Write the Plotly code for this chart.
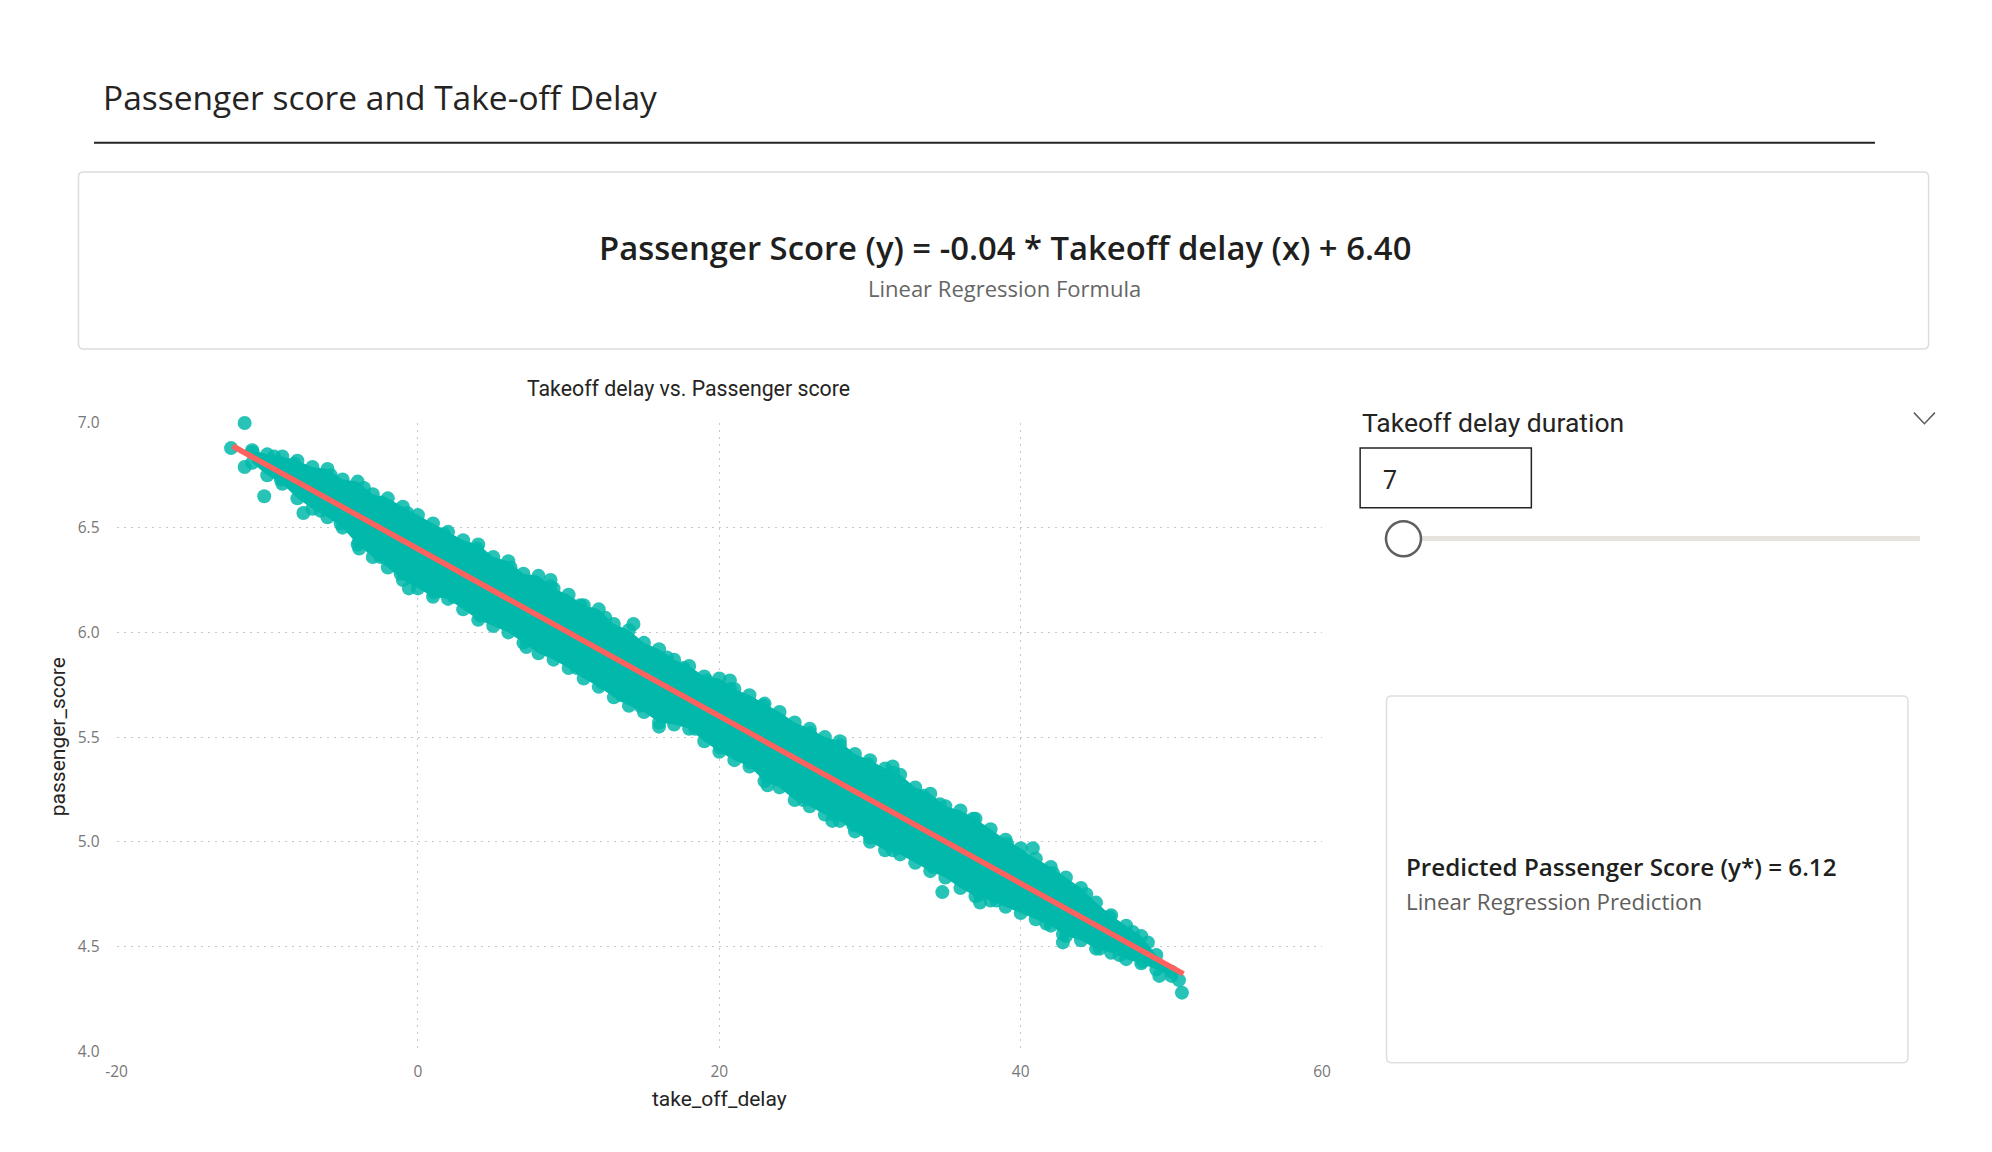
import plotly.graph_objects as go

# page body keeps an 8px margin: the figure is sized to fit the window
OFF = 8
W, H = 1992 - 2 * OFF, 1152 - 2 * OFF
# measured capture scaling of the page (screen = A + S * page)
SX, SY = 0.991, 0.979
AX, AY = 2.0, 5.2

# ---------------- data ----------------
# regression line end points (take_off_delay, passenger_score)
fit_x = [-12.3, 50.8]
fit_y = [6.89, 4.37]

# sampled positions along the dense point cloud
band_x = [-11, -10, -9, -8, -7, -6, -5, -4, -3, -2, -1,
          0, 1, 2, 3, 4, 5, 6, 7, 8, 9, 10, 11, 12, 13, 14, 15, 16, 17, 18, 19,
          20, 21, 22, 23, 24, 25, 26, 27, 28, 29, 30, 31, 32, 33, 34, 35, 36, 37,
          38, 39, 40, 41, 42, 43, 44, 45, 46, 47, 48, 49, 50]
# upper edge points of the cloud
band_hi = [6.87, 6.85, 6.84, 6.82, 6.79, 6.78, 6.73, 6.72, 6.66, 6.64, 6.60,
           6.56, 6.52, 6.48, 6.44, 6.42, 6.36, 6.34, 6.28, 6.27, 6.21, 6.18, 6.13,
           6.11, 6.04, 6.01, 5.95, 5.92, 5.87, 5.84, 5.79, 5.78, 5.73, 5.70, 5.66,
           5.62, 5.57, 5.54, 5.50, 5.48, 5.42, 5.39, 5.35, 5.32, 5.26, 5.23, 5.17,
           5.15, 5.11, 5.06, 5.01, 4.97, 4.92, 4.88, 4.83, 4.78, 4.71, 4.65, 4.60,
           4.55, 4.46, 4.38]
# lower edge points of the cloud
band_lo = [6.81, 6.75, 6.71, 6.64, 6.59, 6.55, 6.50, 6.42, 6.36, 6.31, 6.25,
           6.21, 6.17, 6.16, 6.11, 6.06, 6.03, 6.00, 5.95, 5.90, 5.87, 5.83, 5.78,
           5.74, 5.69, 5.65, 5.62, 5.57, 5.56, 5.54, 5.48, 5.43, 5.39, 5.36, 5.29,
           5.26, 5.20, 5.17, 5.13, 5.10, 5.05, 5.00, 4.96, 4.94, 4.90, 4.86, 4.83,
           4.78, 4.74, 4.72, 4.69, 4.66, 4.63, 4.60, 4.55, 4.53, 4.49, 4.47, 4.44,
           4.42, 4.39, 4.36]
# further points read along the upper edge
edge_hi_x = [-10.98, -9.55, -8.22, -5.79, -3.58, -2.48, -0.71, 1.72, 3.93, 6.14, 8.79,
             10.78, 12.43, 16.52, 17.62, 19.17, 20.72, 22.92, 26.02, 28.0, 29.88, 31.54,
             33.53, 34.63, 36.84, 39.1, 42.14, 44.35, 45.9, 47.44, 48.44]
edge_hi_y = [6.86, 6.84, 6.805, 6.75, 6.69, 6.62, 6.57, 6.47, 6.40, 6.31, 6.22,
             6.13, 6.07, 5.88, 5.83, 5.77, 5.73, 5.65, 5.52, 5.46, 5.37, 5.33,
             5.22, 5.18, 5.11, 4.99, 4.85, 4.75, 4.64, 4.57, 4.52]
# further points read along the lower edge
edge_lo_x = [-9.1, -6.45, -5.13, -3.92, -2.48, -1.15, 1.05, 2.38, 4.15, 7.24, 10.56,
             12.21, 13.54, 14.75, 18.4, 20.06, 22.04, 23.15, 25.58, 27.56, 28.89, 30.0,
             31.52, 34.19, 37.28, 38.4, 41.7, 42.8, 45.25, 46.56, 48.1]
edge_lo_y = [6.73, 6.58, 6.52, 6.43, 6.36, 6.28, 6.19, 6.17, 6.08, 5.96, 5.83,
             5.76, 5.70, 5.65, 5.54, 5.45, 5.38, 5.31, 5.20, 5.13, 5.08, 5.02,
             4.96, 4.88, 4.75, 4.72, 4.61, 4.56, 4.49, 4.46, 4.43]
# isolated points
out_x = [-12.4, -11.5, -11.5, -10.2, -7.6, -0.6, 14.3, 16.0, 34.8, 40.8, 49.2, 50.5, 50.7,
         -3.9, 7.2, 23.2, 27.5, 37.3, 42.8, 8.8, 20.7, 31.5]
out_y = [6.88, 7.00, 6.79, 6.65, 6.57, 6.21, 6.04, 5.55, 4.76, 4.97, 4.36, 4.34, 4.28,
         6.40, 5.93, 5.27, 5.10, 4.71, 4.52, 6.25, 5.77, 5.36]

x_ticks = [-20, 0, 20, 40, 60]
x_tick_text = ["-20", "0", "20", "40", "60"]
y_ticks = [4.0, 4.5, 5.0, 5.5, 6.0, 6.5, 7.0]
y_tick_text = ["4.0", "4.5", "5.0", "5.5", "6.0", "6.5", "7.0"]

slider_value = "7"
predicted_score = "6.12"
formula_text = "Passenger Score (y) = -0.04 * Takeoff delay (x) + 6.40"

# ---------------- helpers (screen pixel -> paper) ----------------
def px(x):
    return ((x - AX) / SX - OFF) / W

def py(y):
    return 1 - ((y - AY) / SY - OFF) / H

TEAL = "#01B8AA"
RED = "#FD625E"
SEGOE = "Segoe UI, Open Sans, Noto Sans, sans-serif"
DIN = "DIN, Roboto, Noto Sans, sans-serif"

fig = go.Figure()

# filled body of the point cloud
fig.add_trace(go.Scatter(
    x=band_x + band_x[::-1], y=band_hi + band_lo[::-1],
    mode="lines", fill="toself", fillcolor=TEAL,
    line=dict(width=0, color=TEAL), hoverinfo="skip", showlegend=False))

# edge points of the cloud
fig.add_trace(go.Scatter(
    x=band_x + band_x + edge_hi_x + edge_lo_x,
    y=band_hi + band_lo + edge_hi_y + edge_lo_y, mode="markers",
    marker=dict(size=14, color=TEAL, opacity=0.85, line=dict(width=0)),
    cliponaxis=False, showlegend=False))

# isolated points
fig.add_trace(go.Scatter(
    x=out_x, y=out_y, mode="markers",
    marker=dict(size=14, color=TEAL, opacity=0.85, line=dict(width=0)),
    cliponaxis=False, showlegend=False))

# regression line
fig.add_trace(go.Scatter(
    x=fit_x, y=fit_y, mode="lines",
    line=dict(color=RED, width=5.5), cliponaxis=False, showlegend=False))

grid = dict(showgrid=True, gridcolor="#c8c8c8", gridwidth=1, griddash="2px,5px",
            zeroline=False, showline=False, ticks="",
            tickfont=dict(family=SEGOE, size=15.5, color="#777777"))

fig.update_layout(
    width=W, height=H,
    margin=dict(l=0, r=0, t=0, b=0),
    paper_bgcolor="white", plot_bgcolor="white",
    showlegend=False,
    xaxis=dict(domain=[px(115.6), px(1322.5)], range=[-20, 60],
               tickvals=x_ticks, ticktext=x_tick_text, ticklabelstandoff=9, **grid),
    yaxis=dict(domain=[py(1050.6), py(423.3)], range=[4, 7],
               tickvals=y_ticks, ticktext=y_tick_text, ticklabelstandoff=16, **grid),
)

def rounded_rect(x0, y0, x1, y1, r):
    X0, X1 = px(x0), px(x1)
    Y0, Y1 = py(y0), py(y1)
    rx, ry = r / W, r / H
    return (f"M {X0+rx},{Y0} L {X1-rx},{Y0} Q {X1},{Y0} {X1},{Y0-ry} "
            f"L {X1},{Y1+ry} Q {X1},{Y1} {X1-rx},{Y1} "
            f"L {X0+rx},{Y1} Q {X0},{Y1} {X0},{Y1+ry} "
            f"L {X0},{Y0-ry} Q {X0},{Y0} {X0+rx},{Y0} Z")

shapes = [
    # title underline
    dict(type="line", xref="paper", yref="paper", x0=px(93), x1=px(1876),
         y0=py(143.6), y1=py(143.6), line=dict(color="#252423", width=2)),
    # formula box
    dict(type="path", xref="paper", yref="paper",
         path=rounded_rect(77.5, 172.8, 1929.7, 349.4, 5),
         line=dict(color="#dcdcdc", width=1.5), fillcolor="rgba(0,0,0,0)"),
    # prediction card
    dict(type="path", xref="paper", yref="paper",
         path=rounded_rect(1387, 696, 1909, 1062, 5),
         line=dict(color="#e1dfdd", width=1.5), fillcolor="rgba(0,0,0,0)"),
    # slicer input box
    dict(type="rect", xref="paper", yref="paper", x0=px(1360.6), x1=px(1532),
         y0=py(448.4), y1=py(508), line=dict(color="#252423", width=1.5)),
    # slider track
    dict(type="line", xref="paper", yref="paper", x0=px(1385), x1=px(1921),
         y0=py(538.6), y1=py(538.6), line=dict(color="#e6e3dd", width=5)),
    # slider thumb
    dict(type="circle", xref="paper", yref="paper", x0=px(1404 - 17.5), x1=px(1404 + 17.5),
         y0=py(539 + 17.5), y1=py(539 - 17.5), fillcolor="white",
         line=dict(color="#5f5f5f", width=2.5)),
    # chevron
    dict(type="path", xref="paper", yref="paper",
         path=f"M {px(1915)},{py(413)} L {px(1925.5)},{py(424)} L {px(1936)},{py(413)}",
         line=dict(color="#605e5c", width=1.5)),
]
fig.update_layout(shapes=shapes)

ann = [
    dict(text="Passenger score and Take-off Delay", x=px(100), y=py(98),
         xanchor="left", yanchor="middle",
         font=dict(family=SEGOE, size=33.5, color="#252423", weight=400)),
    dict(text=formula_text, x=px(1005), y=py(248), xanchor="center", yanchor="middle",
         font=dict(family=SEGOE, size=32.8, color="#201f1e", weight=600)),
    dict(text="Linear Regression Formula", x=px(1005), y=py(289), xanchor="center",
         yanchor="middle", font=dict(family=SEGOE, size=22, color="#666666")),
    dict(text="Takeoff delay vs. Passenger score", x=px(688), y=py(389),
         xanchor="center", yanchor="middle",
         font=dict(family=DIN, size=21.3, color="#252423")),
    dict(text="take_off_delay", x=px(719), y=py(1098), xanchor="center", yanchor="middle",
         font=dict(family=DIN, size=21, color="#252423")),
    dict(text="passenger_score", x=px(57), y=py(737), xanchor="center", yanchor="middle",
         textangle=-90, font=dict(family=DIN, size=21, color="#252423")),
    dict(text="Takeoff delay duration", x=px(1360), y=py(423), xanchor="left",
         yanchor="middle", font=dict(family=DIN, size=26.5, color="#252423")),
    dict(text=slider_value, x=px(1381), y=py(481), xanchor="left", yanchor="middle",
         font=dict(family=DIN, size=25, color="#252423")),
    dict(text=f"Predicted Passenger Score (y*) = {predicted_score}", x=px(1405), y=py(866),
         xanchor="left", yanchor="middle",
         font=dict(family=SEGOE, size=24.2, color="#201f1e", weight=600)),
    dict(text="Linear Regression Prediction", x=px(1405), y=py(901), xanchor="left",
         yanchor="middle", font=dict(family=SEGOE, size=22.3, color="#605e5c")),
]
for a in ann:
    a.update(xref="paper", yref="paper", showarrow=False)
fig.update_layout(annotations=ann)

fig.write_html("out.html")
